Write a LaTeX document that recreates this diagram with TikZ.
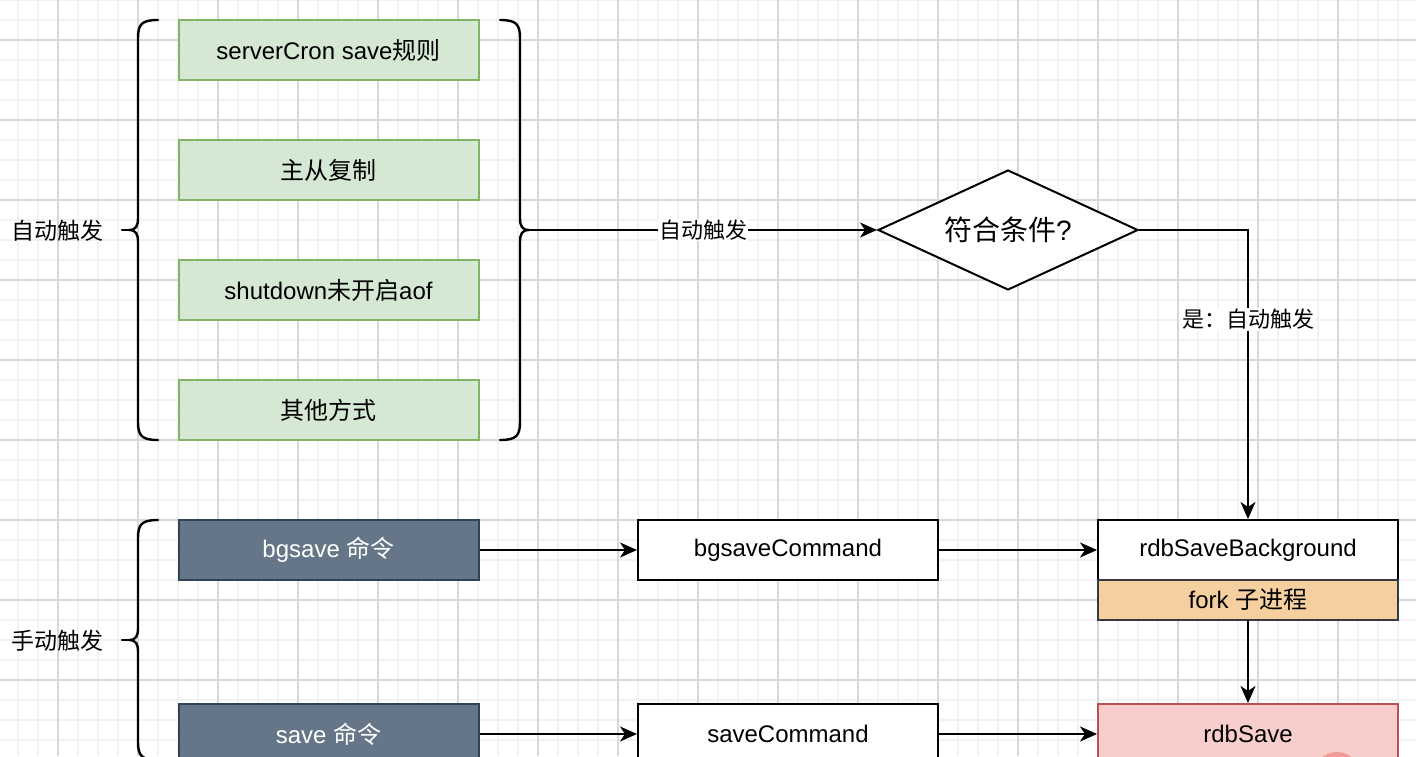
\documentclass[tikz,border=0pt]{standalone}
\usepackage{fontspec}
\setmainfont{Liberation Sans}
\newfontfamily\cjk{Noto Sans CJK SC}
\usetikzlibrary{shapes.geometric,arrows.meta}
\definecolor{gfill}{HTML}{D5E8D4}
\definecolor{gline}{HTML}{82B366}
\definecolor{sfill}{HTML}{647687}
\definecolor{sline}{HTML}{314354}
\definecolor{ofill}{HTML}{F5CF9F}
\definecolor{oline}{HTML}{36393D}
\definecolor{rfill}{HTML}{F8CECC}
\definecolor{rline}{HTML}{B85450}
\definecolor{pinkc}{HTML}{F19C99}
\definecolor{gridminor}{HTML}{F2F2F2}
\definecolor{gridmajor}{HTML}{D8D8D8}
\begin{document}
\begin{tikzpicture}[x=1pt,y=-1pt,
  every node/.style={font=\fontsize{24}{28}\selectfont},
  box/.style={draw, line width=2pt, minimum width=300pt, minimum height=60pt, inner sep=0pt, anchor=center},
  greenbox/.style={box, fill=gfill, draw=gline},
  slatebox/.style={box, fill=sfill, draw=sline, text=white},
  plainbox/.style={box, fill=white, draw=black},
  forkbox/.style={box, fill=ofill, draw=oline, minimum height=40pt},
  redbox/.style={box, fill=rfill, draw=rline},
  arr/.style={-{Stealth[length=17pt,width=15pt,inset=5pt]}, line width=2pt},
  lbl/.style={fill=white, inner sep=1pt, font=\fontsize{22}{26}\selectfont},
  sidetext/.style={font=\fontsize{23}{27}\selectfont},
  bracepath/.style={line width=2.4pt, line cap=round}
]
\useasboundingbox (0,0) rectangle (1416,756);
\clip (0,0) rectangle (1416,756);
\fill[white] (0,0) rectangle (1416,756);
% grid
\foreach \x in {18,38,...,1416} \draw[gridminor, line width=1.3pt] (\x,0) -- (\x,756);
\foreach \y in {0,20,...,756} \draw[gridminor, line width=1.3pt] (0,\y) -- (1416,\y);
\foreach \x in {58,138,...,1416} \draw[gridmajor, line width=1.1pt] (\x,0) -- (\x,756);
\foreach \y in {40,120,...,756} \draw[gridmajor, line width=1.1pt] (0,\y) -- (1416,\y);

% braces
\draw[bracepath] (158,20) .. controls (142,20) and (138,24) .. (138,38) -- (138,218)
  .. controls (138,226) and (136,230) .. (129,230) .. controls (136,230) and (138,234) .. (138,242)
  -- (138,422) .. controls (138,436) and (142,440) .. (158,440);
\draw[bracepath] (122,230) -- (129,230);
\draw[bracepath] (500,20) .. controls (516,20) and (520,24) .. (520,38) -- (520,218)
  .. controls (520,226) and (522,230) .. (529,230) .. controls (522,230) and (520,234) .. (520,242)
  -- (520,422) .. controls (520,436) and (516,440) .. (500,440);
\coordinate (rb) at (529,230);
\draw[bracepath] (158,520) .. controls (142,520) and (138,524) .. (138,538) -- (138,628)
  .. controls (138,636) and (136,640) .. (129,640) .. controls (136,640) and (138,644) .. (138,652)
  -- (138,742) .. controls (138,756) and (142,760) .. (158,760);
\draw[bracepath] (122,640) -- (129,640);

% side texts
\node[sidetext] (autot) at (58,231) {\cjk 自动触发};
\node[sidetext] (mant) at (58,641) {\cjk 手动触发};

% green boxes
\node[greenbox] (g1) at (328.5,50) {serverCron save{\cjk 规则}};
\node[greenbox] (g2) at (328.5,170) {\cjk 主从复制};
\node[greenbox] (g3) at (328.5,290) {shutdown{\cjk 未开启}aof};
\node[greenbox] (g4) at (328.5,410) {\cjk 其他方式};

% diamond
\node[diamond, draw, line width=2pt, fill=white, minimum width=260pt, minimum height=120pt,
  aspect=2.1667, inner sep=0pt, font=\fontsize{28}{32}\selectfont] (dia) at (1008,230) {{\cjk 符合条件}?};

% right column
\node[plainbox] (rsb) at (1248,550) {rdbSaveBackground};
\node[forkbox] (fork) at (1248,600) {fork {\cjk 子进程}};
\node[redbox] (rs) at (1248,734) {rdbSave};

% slate boxes
\node[slatebox] (bg) at (328.5,550) {bgsave {\cjk 命令}};
\node[slatebox] (sv) at (328.5,734) {save {\cjk 命令}};

% command boxes
\node[plainbox] (bgc) at (788,550) {bgsaveCommand};
\node[plainbox] (svc) at (788,734) {saveCommand};

% pink dot over the rdbSave box
\fill[pinkc] (1337,776) circle (24);

% connectors
\draw[arr] (rb) -- node[lbl] {\cjk 自动触发} (dia.west);
\draw[arr] (dia.east) -| node[lbl, pos=0.655] {\cjk 是：自动触发} (rsb.north);
\draw[arr] (fork.south) -- (rs.north);
\draw[arr] (bg) -- (bgc);
\draw[arr] (bgc) -- (rsb);
\draw[arr] (sv) -- (svc);
\draw[arr] (svc) -- (rs);
\end{tikzpicture}
\end{document}
